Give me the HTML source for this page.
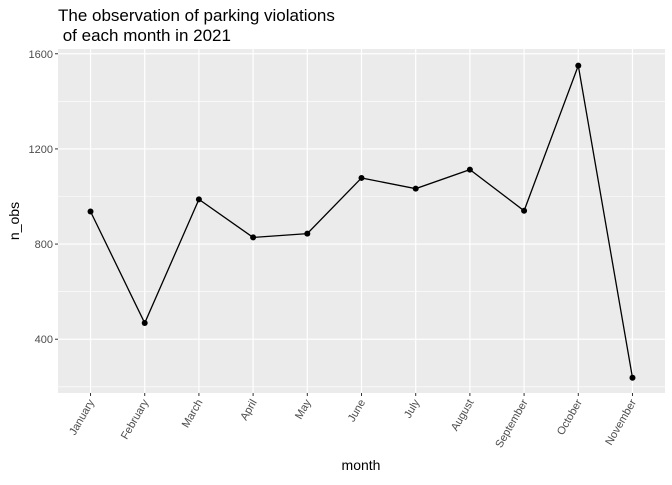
<!DOCTYPE html>
<html><head><meta charset="utf-8"><style>
body{margin:0;background:#fff;font-family:"Liberation Sans",sans-serif}
</style></head><body>
<svg id="chart" width="672" height="480" xmlns="http://www.w3.org/2000/svg" font-family="Liberation Sans, sans-serif">
<text x="58" y="21" font-size="17">The observation of parking violations</text>
<text x="58" y="41" font-size="17">&#160;of each month in 2021</text>
<rect x="58" y="49" width="607" height="344" fill="#ebebeb"/>
<g id="grid"></g><g id="axes"></g><g id="marks"></g>
<text x="361" y="470" font-size="14" text-anchor="middle">month</text>
<text transform="translate(19,221) rotate(-90)" font-size="14" text-anchor="middle">n_obs</text>
</svg>
<script>
const months=["January","February","March","April","May","June","July","August","September","October","November"];
const nObs=[937,468,988,828,844,1078,1033,1113,940,1550,238];
const yTicks=[400,800,1200,1600];
const yMinor=[200,600,1000,1400];
const NS="http://www.w3.org/2000/svg";
const px0=58,pw=607,py0=49,ph=344,ymin=174,ymax=1620;
const xs=i=>px0+pw*(i+0.6)/(months.length+0.2);
const ys=v=>py0+ph*(ymax-v)/(ymax-ymin);
function mk(t,a,p){const e=document.createElementNS(NS,t);for(const k in a)e.setAttribute(k,a[k]);p.appendChild(e);return e;}
const g=document.getElementById('grid'),ax=document.getElementById('axes'),m=document.getElementById('marks');
yMinor.forEach(v=>{const l=mk('line',{x1:px0,x2:px0+pw,y1:ys(v),y2:ys(v),stroke:'#fff','stroke-width':0.6},g);

});
yTicks.forEach(v=>{const l=mk('line',{x1:px0,x2:px0+pw,y1:ys(v),y2:ys(v),stroke:'#fff','stroke-width':1.2},g);


const tk=mk('line',{x1:px0-3,x2:px0,y1:ys(v),y2:ys(v),stroke:'#333','stroke-width':1},ax);


const t=mk('text',{x:px0-5,y:ys(v)+4,'font-size':11,fill:'#4d4d4d','text-anchor':'end'},ax);t.textContent=v;

});
months.forEach((mo,i)=>{const x=xs(i);
const l=mk('line',{x1:x,x2:x,y1:py0,y2:py0+ph,stroke:'#fff','stroke-width':1.2},g);


const tk=mk('line',{x1:x,x2:x,y1:py0+ph,y2:py0+ph+3,stroke:'#333','stroke-width':1},ax);


const t=mk('text',{x:0,y:0,'font-size':11,fill:'#4d4d4d','text-anchor':'end',transform:`translate(${x+4},${py0+ph+9}) rotate(-60)`},ax);t.textContent=mo;

});
const pl=mk('polyline',{points:nObs.map((v,i)=>xs(i)+','+ys(v)).join(' '),fill:'none',stroke:'#000','stroke-width':1.3},m);


nObs.forEach((v,i)=>{const c=mk('circle',{cx:xs(i),cy:ys(v),r:3,fill:'#000'},m);

});
</script>
</body></html>
